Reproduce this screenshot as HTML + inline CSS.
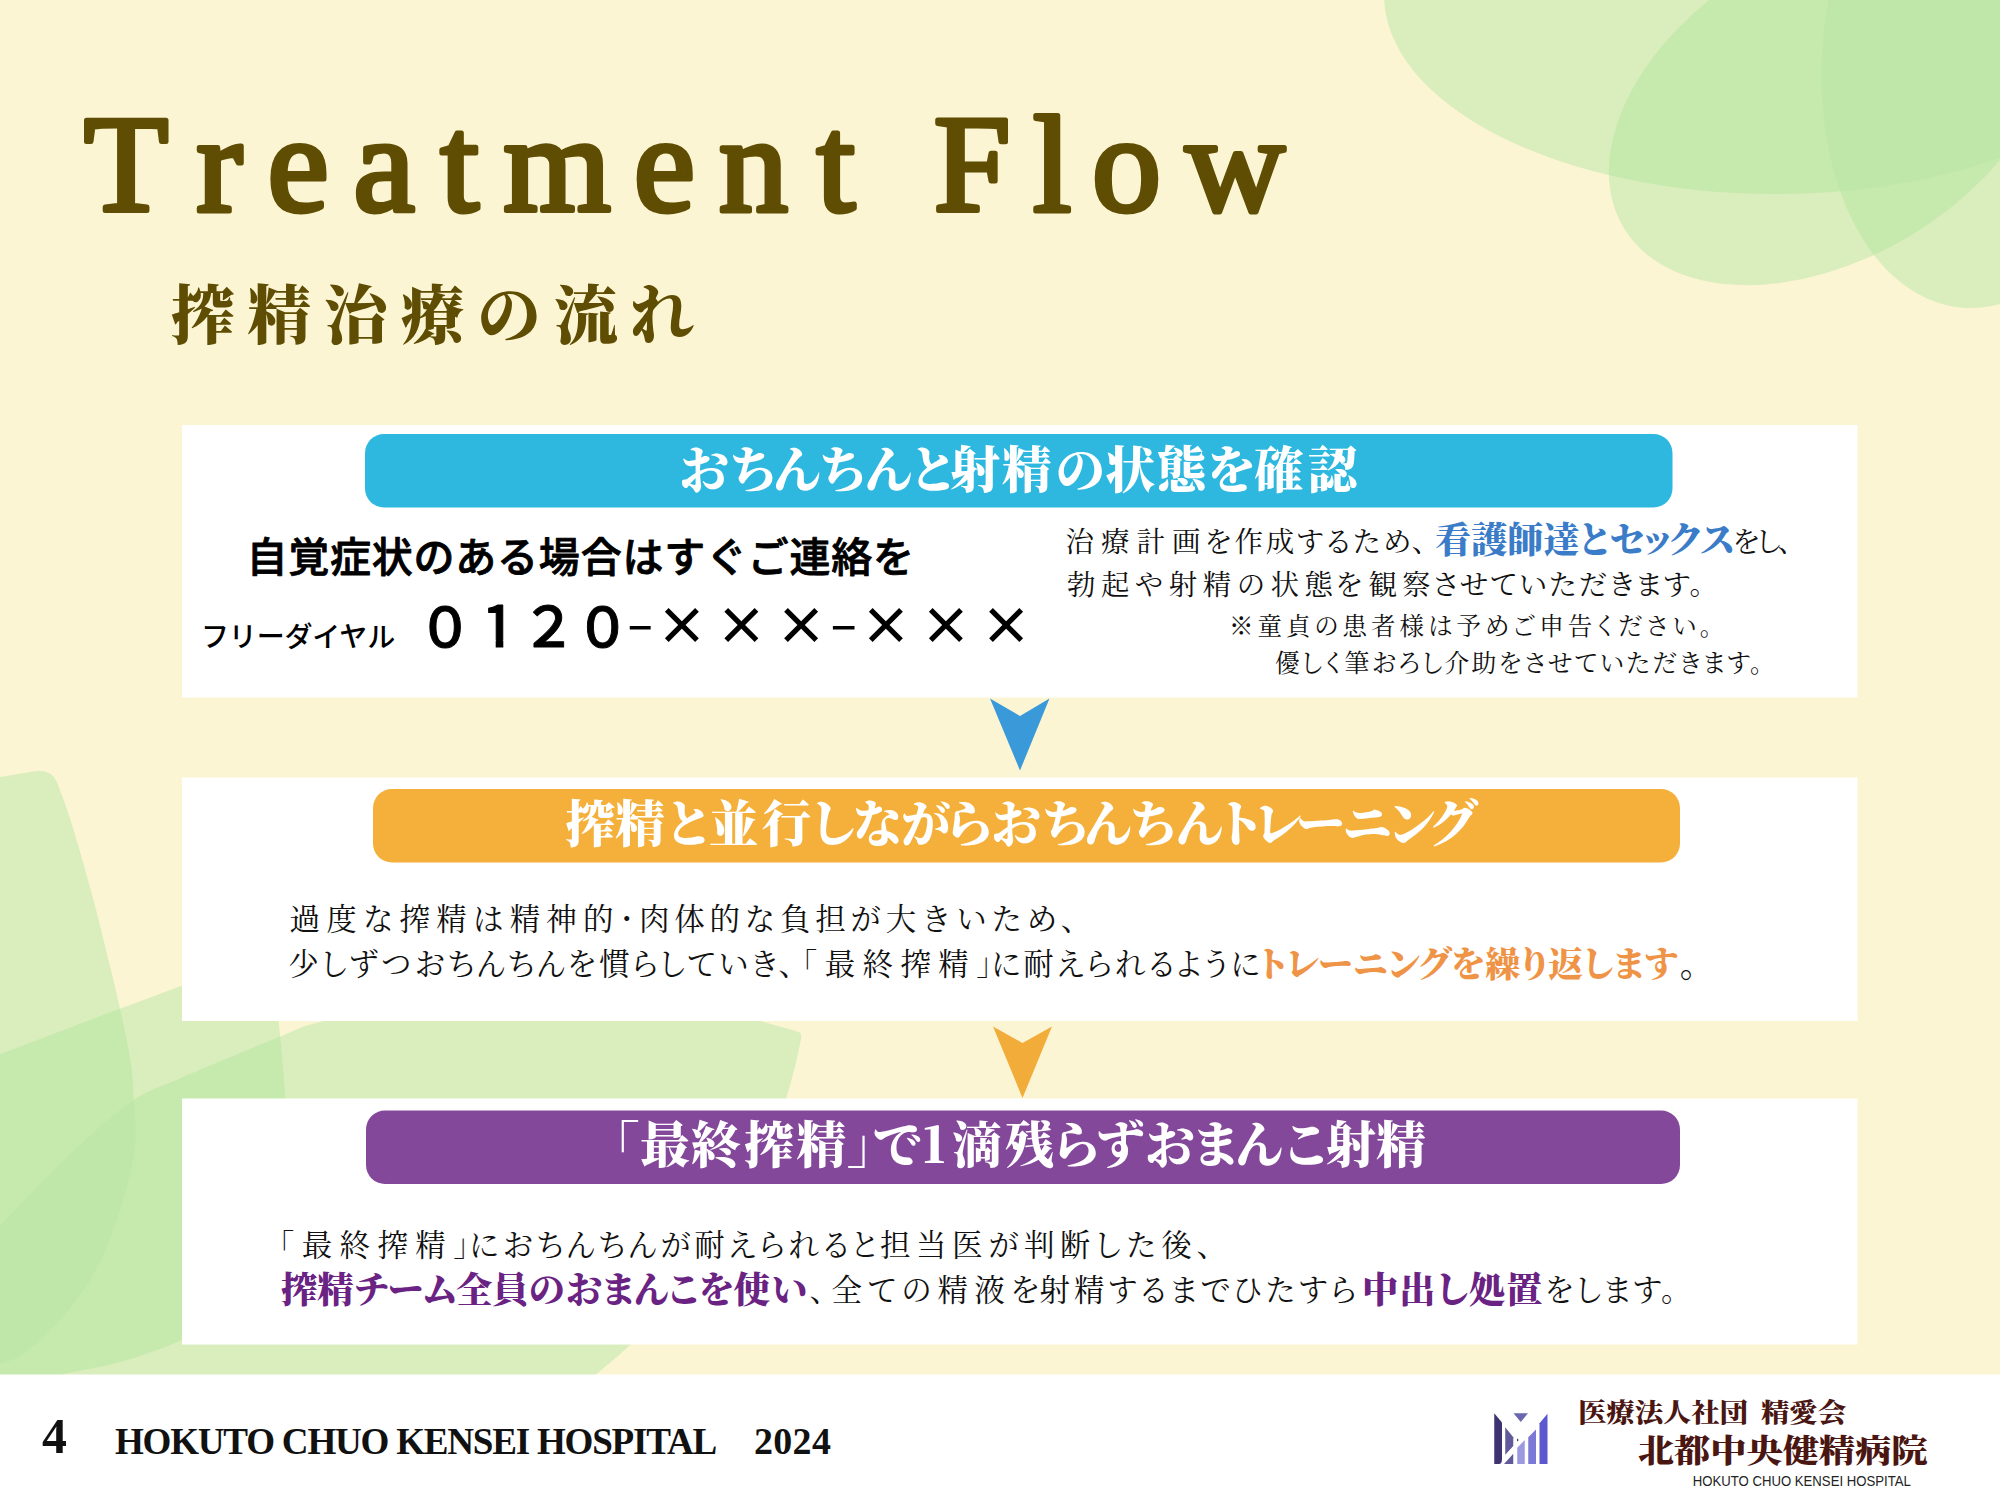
<!DOCTYPE html>
<html lang="ja">
<head>
<meta charset="utf-8">
<title>Treatment Flow</title>
<style>
html,body{margin:0;padding:0;background:#fcf5d4;}
body{width:2000px;height:1500px;overflow:hidden;position:relative;}
svg{position:absolute;left:0;top:0;display:block;}
text{white-space:pre;}
.ls{font-family:"Liberation Serif","Noto Serif CJK JP","Noto Serif CJK SC",serif;}
.mincho{font-family:"Noto Serif CJK JP","Noto Serif CJK SC","Liberation Serif",serif;}
.gothic{font-family:"Noto Sans CJK JP","Noto Sans CJK SC","Liberation Sans",sans-serif;}
.lsans{font-family:"Liberation Sans","Noto Sans CJK JP",sans-serif;}
.palt{font-feature-settings:"palt" 1;}
.halt{font-feature-settings:"halt" 1;}
</style>
</head>
<body>
<svg width="2000" height="1500" viewBox="0 0 2000 1500">
<defs>
<ellipse cx="1775" cy="-5" rx="391" ry="199" id="eA"/>
<clipPath id="c_eA"><use href="#eA"/></clipPath>
<ellipse cx="1831" cy="103" rx="242" ry="154.7" transform="rotate(-31.1 1831 103)" id="eB"/>
<clipPath id="c_eB"><use href="#eB"/></clipPath>
<ellipse cx="1987" cy="49.5" rx="164.2" ry="259.4" transform="rotate(6.1 1987 49.5)" id="eC"/>
<clipPath id="c_eC"><use href="#eC"/></clipPath>
<path d="M-10,778.5 L34.7,771.3 Q50,768.5 57,782 C59.5,789.1 66.0,805.2 72.0,824.7 C78.0,844.2 87.1,876.2 93.3,899.3 C99.5,922.4 104.8,945.1 109.3,963.3 C113.8,981.5 116.4,992.2 120.0,1008.7 C123.6,1025.2 128.4,1046.8 130.7,1062.0 C133.0,1077.2 133.1,1085.3 133.8,1100.0 C134.5,1114.7 137.0,1131.7 134.7,1150.0 C132.4,1168.3 126.5,1190.0 120.0,1210.0 C113.5,1230.0 106.0,1251.7 96.0,1270.0 C86.0,1288.3 72.7,1305.7 60.0,1320.0 C47.3,1334.3 31.7,1348.5 20.0,1356.0 C8.3,1363.5 -5.0,1363.5 -10.0,1365.0 Z" id="p1"/>
<clipPath id="c_p1"><use href="#p1"/></clipPath>
<path d="M-10,1058 L120,1008.7 L181,986 L250,960 Q270,953 273,975 C273.9,982.8 276.6,1001.7 278.7,1022.0 C280.8,1042.3 283.8,1075.4 285.3,1096.7 C286.9,1118.0 288.9,1131.1 288.0,1150.0 C287.1,1168.9 285.5,1190.0 280.0,1210.0 C274.5,1230.0 265.8,1252.0 255.0,1270.0 C244.2,1288.0 227.2,1306.3 215.0,1318.0 C202.8,1329.7 197.8,1332.7 182.0,1340.0 C166.2,1347.3 140.3,1356.2 120.0,1362.0 C99.7,1367.8 81.7,1369.5 60.0,1375.0 C38.3,1380.5 1.7,1391.7 -10.0,1395.0 Z" id="p2"/>
<clipPath id="c_p2"><use href="#p2"/></clipPath>
<path d="M-10,1238 C-8.3,1236.0 -14.1,1240.7 0.0,1226.0 C14.1,1211.3 52.5,1170.9 74.7,1150.0 C96.9,1129.1 115.3,1112.7 133.0,1100.7 C150.7,1088.7 156.5,1088.7 181.0,1078.0 C205.5,1067.3 256.2,1046.2 280.0,1036.7 C303.8,1027.2 295.7,1028.1 324.0,1021.0 C352.3,1013.9 404.0,998.8 450.0,994.0 C496.0,989.2 558.3,990.3 600.0,992.0 C641.7,993.7 673.3,999.2 700.0,1004.0 C726.7,1008.8 750.0,1018.0 760.0,1020.8 L797.5,1031.6 Q801.9,1033 801.3,1038 A562.4,562.4 0 0 1 597.3,1373.3 L560,1405 L-10,1405 Z" id="p3"/>
<clipPath id="c_p3"><use href="#p3"/></clipPath>
</defs>
<rect x="0" y="0" width="2000" height="1500" fill="#fcf5d4"/>
<!-- green blobs top-right -->
<g fill="#daedbc"><use href="#eA"/><use href="#eB"/><use href="#eC"/></g>
<g fill="#c6e9ae"><use href="#eB" clip-path="url(#c_eA)"/><use href="#eC" clip-path="url(#c_eB)"/><use href="#eC" clip-path="url(#c_eA)"/></g>
<g clip-path="url(#c_eA)"><use href="#eC" clip-path="url(#c_eB)" fill="#bfe7a9"/></g>
<!-- green petals bottom-left -->
<g fill="#daedbc"><use href="#p1"/><use href="#p2"/><use href="#p3"/></g>
<g fill="#c6e9ae"><use href="#p2" clip-path="url(#c_p1)"/><use href="#p3" clip-path="url(#c_p2)"/><use href="#p3" clip-path="url(#c_p1)"/></g>
<g clip-path="url(#c_p1)"><use href="#p3" clip-path="url(#c_p2)" fill="#bfe7a9"/></g>
<!-- white boxes -->
<rect x="182" y="425" width="1675.5" height="272.5" fill="#fff"/>
<rect x="182" y="777.5" width="1675.5" height="243.5" fill="#fff"/>
<rect x="182" y="1098.5" width="1675.5" height="246" fill="#fff"/>
<rect x="0" y="1374.5" width="2000" height="126" fill="#fff"/>
<!-- pills -->
<rect x="365" y="434" width="1307.5" height="73.5" rx="19" fill="#2fb8df"/>
<rect x="373" y="789" width="1307" height="73.5" rx="19" fill="#f4b03b"/>
<rect x="366" y="1110.5" width="1314" height="73.5" rx="19" fill="#84489a"/>
<!-- arrows -->
<path d="M990,698.5 L1020,716 L1049.5,698.5 L1020,770.5 Z" fill="#3a9ad9"/>
<path d="M993,1026.5 L1022.5,1043 L1052,1026.5 L1022.5,1098 Z" fill="#f2ac3a"/>
<text class="ls" font-weight="normal" font-size="138.0" fill="#5f4d03" stroke="#5f4d03" stroke-width="5.0" stroke-linejoin="round" y="210.6" x="84.1 196.5 267.4 353.6 440.5 503.6 633.8 718.9 816.8">Treatment</text>
<text class="ls" font-weight="normal" font-size="138.0" fill="#5f4d03" stroke="#5f4d03" stroke-width="5.0" stroke-linejoin="round" y="210.6" x="933.7 1033.0 1091.9 1185.2">Flow</text>
<text class="mincho" font-weight="900" font-size="49.6" fill="#fff" y="488.2" x="679.4 728.7 772.1 818.6 863.4 908.3 950.2 1001.9 1055.5 1105.6 1156.9 1206.8 1253.9 1308.0">おちんちんと射精の状態を確認</text>
<text class="mincho" font-weight="900" font-size="49.6" fill="#fff" y="842.0" x="565.4 615.3 663.8 709.0 761.9 808.7 852.8 900.9 944.6 991.4 1041.1 1083.1 1128.9 1174.4 1215.1 1252.6 1295.8 1342.5 1386.6 1428.8">搾精と並行しながらおちんちんトレーニング</text>
<text class="mincho" font-weight="900" font-size="49.6" fill="#fff" y="1163.2" x="589.8 640.1 690.9 744.3 796.4 847.0 872.5 922.4 952.2 1004.5 1051.5 1096.0 1145.2 1191.6 1234.3 1281.6 1326.1 1376.2">「最終搾精」で1滴残らずおまんこ射精</text>
<text class="mincho" font-size="63.50" x="171.00" y="337.80" font-weight="900" fill="#5f4d03" textLength="523.00" lengthAdjust="spacing">搾精治療の流れ</text>
<text class="gothic" font-size="41.00" x="246.50" y="571.50" font-weight="500" fill="#000" textLength="667.50" lengthAdjust="spacing" stroke="#000" stroke-width="0.8" stroke-linejoin="round">自覚症状のある場合はすぐご連絡を</text>
<text class="gothic" font-size="28.00" x="201.00" y="647.00" font-weight="500" fill="#000" textLength="194.17" lengthAdjust="spacing">フリーダイヤル</text>
<text class="gothic" font-size="54.77" x="417.70" y="646.50" font-weight="500" fill="#000" stroke="#000" stroke-width="0.9" stroke-linejoin="round">０</text>
<text class="gothic" font-size="57.35" x="482.00" y="647.00" font-weight="500" fill="#000" stroke="#000" stroke-width="0.9" stroke-linejoin="round">1</text>
<text class="gothic" font-size="55.31" x="521.00" y="647.00" font-weight="500" fill="#000" stroke="#000" stroke-width="0.9" stroke-linejoin="round">２</text>
<text class="gothic" font-size="54.77" x="575.20" y="646.50" font-weight="500" fill="#000" stroke="#000" stroke-width="0.9" stroke-linejoin="round">０</text>
<text class="gothic" font-size="50.00" x="626.00" y="641.50" font-weight="400" fill="#000" textLength="28.36" lengthAdjust="spacingAndGlyphs">-</text>
<text class="gothic" font-size="50.00" x="829.00" y="641.50" font-weight="400" fill="#000" textLength="29.36" lengthAdjust="spacingAndGlyphs">-</text>
<text class="gothic" font-size="51.63" x="656.00" y="644.80" font-weight="700" fill="#000" textLength="170.89" lengthAdjust="spacing">×××</text>
<text class="gothic" font-size="51.63" x="860.00" y="644.80" font-weight="700" fill="#000" textLength="171.89" lengthAdjust="spacing">×××</text>
<text class="mincho" font-size="28.50" x="1065.50" y="552.00" font-weight="400" fill="#111" textLength="135.02" lengthAdjust="spacing">治療計画</text>
<text class="mincho palt" font-size="28.50" x="1205.00" y="552.00" font-weight="400" fill="#111" textLength="221.50" lengthAdjust="spacing">を作成するため、</text>
<text class="mincho palt" font-size="36.00" x="1435.00" y="552.50" font-weight="900" fill="#3b7cc8" textLength="299.02" lengthAdjust="spacing">看護師達とセックス</text>
<text class="mincho palt" font-size="28.50" x="1733.00" y="552.00" font-weight="400" fill="#111" textLength="59.39" lengthAdjust="spacing">をし、</text>
<text class="mincho" font-size="28.50" x="1067.00" y="595.00" font-weight="400" fill="#111" textLength="266.02" lengthAdjust="spacing">勃起や射精の状態</text>
<text class="mincho" font-size="28.50" x="1335.00" y="595.00" font-weight="400" fill="#111" textLength="95.52" lengthAdjust="spacing">を観察</text>
<text class="mincho palt" font-size="28.50" x="1433.00" y="595.00" font-weight="400" fill="#111" textLength="270.95" lengthAdjust="spacing">させていただきます。</text>
<text class="mincho palt" font-size="24.50" x="1229.00" y="635.00" font-weight="400" fill="#111" textLength="483.33" lengthAdjust="spacing">※童貞の患者様は予めご申告ください。</text>
<text class="mincho palt" font-size="24.80" x="1275.00" y="672.00" font-weight="400" fill="#111" textLength="487.62" lengthAdjust="spacing">優しく筆おろし介助をさせていただきます。</text>
<text class="mincho" font-size="30.50" x="289.50" y="930.20" font-weight="400" fill="#111" textLength="324.00" lengthAdjust="spacing">過度な搾精は精神的</text>
<text class="mincho" font-size="27.00" x="613.20" y="929.00" font-weight="400" fill="#111">・</text>
<text class="mincho halt" font-size="30.50" x="639.00" y="930.20" font-weight="400" fill="#111" textLength="437.03" lengthAdjust="spacing">肉体的な負担が大きいため、</text>
<text class="mincho palt" font-size="30.50" x="288.50" y="975.40" font-weight="400" fill="#111" textLength="505.81" lengthAdjust="spacing">少しずつおちんちんを慣らしていき、</text>
<text class="mincho halt" font-size="30.50" x="802.00" y="975.40" font-weight="400" fill="#111" textLength="189.50" lengthAdjust="spacing">「最終搾精」</text>
<text class="mincho palt" font-size="30.50" x="991.00" y="975.40" font-weight="400" fill="#111" textLength="268.72" lengthAdjust="spacing">に耐えられるように</text>
<text class="mincho palt" font-size="35.05" x="1260.00" y="977.10" font-weight="900" fill="#ef9447" textLength="417.59" lengthAdjust="spacing">トレーニングを繰り返します</text>
<text class="mincho palt" font-size="34.31" x="1680.00" y="977.20" font-weight="400" fill="#111" textLength="19.16" lengthAdjust="spacing">。</text>
<text class="mincho halt" font-size="30.50" x="279.00" y="1255.50" font-weight="400" fill="#111" textLength="189.50" lengthAdjust="spacing">「最終搾精」</text>
<text class="mincho palt" font-size="30.50" x="469.00" y="1255.50" font-weight="400" fill="#111" textLength="408.72" lengthAdjust="spacing">におちんちんが耐えられると</text>
<text class="mincho palt" font-size="30.50" x="880.00" y="1255.50" font-weight="400" fill="#111" textLength="332.38" lengthAdjust="spacing">担当医が判断した後、</text>
<text class="mincho palt" font-size="36.30" x="281.00" y="1302.50" font-weight="900" fill="#6a2383" textLength="526.16" lengthAdjust="spacing">搾精チーム全員のおまんこを使い</text>
<text class="mincho palt" font-size="30.50" x="810.00" y="1301.00" font-weight="400" fill="#111" textLength="229.50" lengthAdjust="spacing">、全ての精液を</text>
<text class="mincho palt" font-size="30.50" x="1039.50" y="1301.00" font-weight="400" fill="#111" textLength="316.20" lengthAdjust="spacing">射精するまでひたすら</text>
<text class="mincho palt" font-size="36.30" x="1362.00" y="1302.50" font-weight="900" fill="#6a2383" textLength="180.52" lengthAdjust="spacing">中出し処置</text>
<text class="mincho palt" font-size="30.50" x="1545.00" y="1301.00" font-weight="400" fill="#111" textLength="131.52" lengthAdjust="spacing">をします。</text>
<text class="ls" font-size="49.82" x="42.00" y="1453.40" font-weight="bold" fill="#111" textLength="18.41" lengthAdjust="spacing">4</text>
<text class="ls" font-size="37.09" x="115.00" y="1454.40" font-weight="bold" fill="#111" textLength="602.25" lengthAdjust="spacing">HOKUTO CHUO KENSEI HOSPITAL</text>
<text class="ls" font-size="37.96" x="754.00" y="1453.60" font-weight="bold" fill="#111" textLength="76.91" lengthAdjust="spacing">2024</text>
<text class="mincho" font-size="26.01" x="1578.00" y="1421.50" font-weight="900" fill="#4a1612" textLength="170.02" lengthAdjust="spacingAndGlyphs">医療法人社団</text>
<text class="mincho" font-size="26.01" x="1761.00" y="1421.50" font-weight="900" fill="#4a1612" textLength="85.02" lengthAdjust="spacingAndGlyphs">精愛会</text>
<text class="mincho" font-size="32.01" x="1637.75" y="1461.50" font-weight="900" fill="#4a1612" textLength="289.77" lengthAdjust="spacingAndGlyphs">北都中央健精病院</text>
<text class="lsans" font-size="15.25" x="1692.75" y="1485.50" font-weight="400" fill="#222" textLength="218.06" lengthAdjust="spacingAndGlyphs">HOKUTO CHUO KENSEI HOSPITAL</text>
<!-- trim base of digit one to match reference glyph -->
<rect x="484" y="640.3" width="11.7" height="8.5" fill="#fff"/>
<rect x="503.3" y="640.3" width="10" height="8.5" fill="#fff"/>
<!-- logo mark -->
<g>
<path d="M1494.25,1413.25 L1502,1422.5 L1502,1459 Q1502,1464 1499,1464 L1494.25,1464 Z" fill="#3e3370"/>
<path d="M1505.25,1427.25 L1513.25,1437.25 L1513.25,1446 L1505.25,1454.75 Z" fill="#62599a"/>
<path d="M1504,1464 L1513.25,1453.75 L1513.25,1464 Z" fill="#62599a"/>
<path d="M1517.25,1447.75 L1524.75,1440 L1524.75,1464 L1517.25,1464 Z" fill="#9c99e0"/>
<path d="M1517,1438.5 L1518.8,1440 L1517,1441.5 Z" fill="#3e3370"/>
<path d="M1528.25,1437.25 L1536,1429.5 L1536,1464 L1528.25,1464 Z" fill="#7b78d6"/>
<path d="M1539.5,1423.25 L1547.5,1413.75 L1547.5,1464 L1539.5,1464 Z" fill="#5b58cf"/>
<path d="M1513.5,1413.25 L1528,1413.25 L1520.75,1422 Z" fill="#6b66b0"/>
</g>
</svg>
</body>
</html>
